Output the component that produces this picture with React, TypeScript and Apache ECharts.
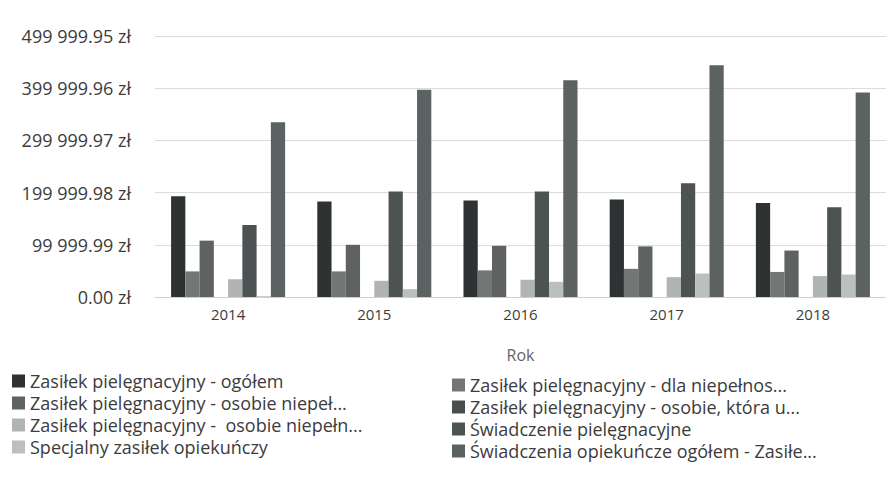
import React, { useEffect, useRef } from "react";
import * as echarts from "echarts";

const years = ["2014", "2015", "2016", "2017", "2018"];

const seriesNames = [
  "Zasiłek pielęgnacyjny - ogółem",
  "Zasiłek pielęgnacyjny - dla niepełnos...",
  "Zasiłek pielęgnacyjny - osobie niepeł...",
  "Zasiłek pielęgnacyjny - osobie, która u...",
  "Zasiłek pielęgnacyjny -  osobie niepełn...",
  "Świadczenie pielęgnacyjne",
  "Specjalny zasiłek opiekuńczy",
  "Świadczenia opiekuńcze ogółem - Zasiłe...",
];

const zpOgolem = [193000, 183000, 185000, 187000, 180000];
const zpDzieci = [49000, 49000, 51000, 54000, 48000];
const zpNiepel = [108000, 100000, 98000, 97000, 89000];
const zp75 = [0, 0, 0, 0, 0];
const zpNiepeln = [34000, 31000, 33000, 38000, 40000];
const swPiel = [138000, 202000, 202000, 218000, 172000];
const specjalny = [1500, 15000, 29000, 45000, 43000];
const swOgolem = [335000, 397000, 415000, 444000, 392000];

const seriesValues = [zpOgolem, zpDzieci, zpNiepel, zp75, zpNiepeln, swPiel, specjalny, swOgolem];

const colors = ["#2e3232", "#727675", "#5e6362", "#4a4f4e", "#b0b4b2", "#4c5352", "#bbbfbd", "#5b6261"];

const yMax = 499999.95;
const yStep = 99999.99;

function fmtZl(v: number): string {
  const s = (Math.round(v * 100) / 100).toFixed(2);
  const [intPart, dec] = s.split(".");
  const grouped = intPart.replace(/\B(?=(\d{3})+(?!\d))/g, " ");
  return grouped + "." + dec + " zł";
}

export default function App() {
  const ref = useRef<HTMLDivElement>(null);
  useEffect(() => {
    if (!ref.current) return;
    const chart = echarts.init(ref.current, undefined, { renderer: "svg" });
    const font = "'Open Sans', 'Noto Sans', sans-serif";
    const legendBase = {
      orient: "vertical",
      padding: 0,
      itemWidth: 13,
      itemHeight: 13,
      itemGap: 0,
      icon: "rect",
      textStyle: { fontSize: 18, color: "#3c3c3c", fontFamily: font, lineHeight: 22, padding: [0, 0, 0, 0] },
    };
    chart.setOption({
      animation: false,
      backgroundColor: "#ffffff",
      textStyle: { fontFamily: font },
      grid: { left: 155, top: 36, width: 742, bottom: 200, containLabel: false },
      legend: [
        {
          ...legendBase,
          left: 12,
          top: 370,
          data: [seriesNames[0], seriesNames[2], seriesNames[4], seriesNames[6]],
        },
        {
          ...legendBase,
          left: 452,
          top: 374,
          data: [seriesNames[1], seriesNames[3], seriesNames[5], seriesNames[7]],
        },
      ],
      xAxis: {
        type: "category",
        data: years,
        name: "Rok",
        nameLocation: "middle",
        nameGap: 50,
        nameTextStyle: { fontSize: 16, color: "#666", fontFamily: font },
        axisLine: { lineStyle: { color: "#cfcfcf" } },
        axisTick: { show: false },
        axisLabel: { fontSize: 15, color: "#3c3c3c", margin: 9, fontFamily: font },
      },
      yAxis: {
        type: "value",
        min: 0,
        max: yMax,
        interval: yStep,
        axisLine: { show: false },
        axisTick: { show: false },
        splitLine: { lineStyle: { color: "#dcdcdc" } },
        axisLabel: {
          fontSize: 18,
          color: "#3c3c3c",
          margin: 24,
          fontFamily: font,
          formatter: (v: number) => fmtZl(v),
        },
      },
      series: seriesNames.map((n, i) => ({
        name: n,
        type: "bar",
        data: seriesValues[i],
        barGap: "0%",
        barCategoryGap: "22%",
        itemStyle: { color: colors[i] },
      })),
    });
    return () => chart.dispose();
  }, []);
  return (
    <div
      ref={ref}
      style={{ position: "absolute", left: 0, top: 0, width: 886, height: 497 }}
    />
  );
}
